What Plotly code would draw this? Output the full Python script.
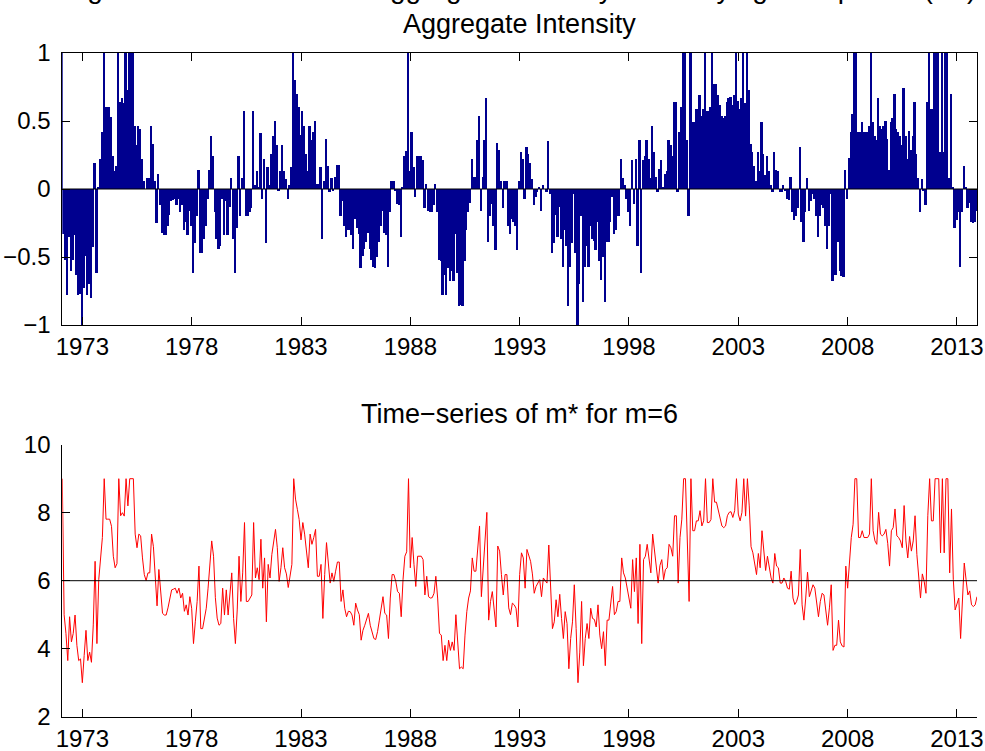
import plotly.graph_objects as go

# Monthly observations, Feb 1972 .. Dec 2013 (503 months)
intensity = [
    1.0, -0.33, -0.52, -0.78, -0.35, -0.6, -0.52, -0.34, -0.63, -0.78,
    -0.77, -1.0, -0.73, -0.49, -0.78, -0.7, -0.8, -0.43, 0.19, -0.62,
    0.01, 0.22, 0.42, 1.0, 0.6, 0.6, 0.6, 0.53, 0.24, 0.13,
    0.17, 1.0, 0.64, 0.67, 0.63, 1.0, 0.73, 1.0, 1.0, 1.0,
    0.46, 0.32, 0.46, 0.44, 0.22, 0.06, 0.0, 0.08, 0.08, 0.46,
    0.33, 0.06, -0.25, 0.11, -0.12, -0.32, -0.34, -0.34, -0.27, -0.19,
    -0.09, -0.08, -0.07, -0.12, -0.07, -0.17, -0.12, -0.3, -0.24, -0.34,
    -0.16, -0.27, -0.62, -0.4, -0.2, 0.14, -0.47, -0.47, -0.37, -0.27,
    -0.07, 0.14, 0.39, 0.24, -0.17, -0.37, -0.44, -0.42, -0.07, -0.34,
    -0.09, -0.34, -0.13, 0.08, -0.37, -0.62, -0.29, 0.24, -0.2, 0.08,
    0.57, -0.2, -0.2, -0.17, -0.14, 0.57, 0.03, 0.13, 0.01, 0.41,
    -0.07, 0.22, -0.4, 0.16, 0.03, 0.26, 0.39, 0.5, 0.32, -0.01,
    0.13, 0.32, 0.13, 0.07, -0.07, 0.03, 0.16, 1.0, 0.8, 0.7,
    0.6, 0.4, 0.57, 0.46, 0.26, 0.13, 0.46, 0.36, 0.42, 0.5,
    0.04, 0.04, 0.16, -0.37, 0.06, 0.37, 0.17, -0.02, 0.08, -0.01,
    0.09, 0.18, 0.18, -0.2, -0.09, -0.27, -0.35, -0.3, -0.3, -0.34,
    -0.44, -0.22, -0.29, -0.33, -0.58, -0.49, -0.44, -0.39, -0.32, -0.44,
    -0.52, -0.57, -0.58, -0.5, -0.39, -0.27, -0.16, -0.32, -0.34, -0.57,
    -0.17, 0.06, 0.06, -0.01, -0.11, -0.12, -0.35, 0.01, 0.24, 0.28,
    1.0, 0.13, 0.42, 0.16, -0.06, 0.24, 0.24, 0.24, 0.21, -0.14,
    0.04, -0.16, -0.17, -0.17, -0.12, 0.04, -0.17, -0.52, -0.53, -0.78,
    -0.63, -0.78, -0.58, -0.68, -0.6, -0.68, -0.33, -0.62, -0.86, -0.85,
    -0.86, -0.53, -0.3, -0.17, -0.1, 0.22, 0.09, 0.09, 0.36, 0.54,
    -0.16, 0.09, 0.36, 0.67, -0.39, -0.2, -0.11, -0.27, -0.45, 0.34,
    0.29, 0.06, -0.14, 0.06, 0.06, -0.27, -0.33, -0.22, -0.24, -0.27,
    -0.45, 0.06, 0.27, 0.22, -0.07, 0.31, 0.26, 0.19, 0.07, -0.12,
    -0.06, -0.02, 0.01, -0.16, 0.03, 0.0, -0.02, 0.35, -0.04, -0.47,
    -0.4, -0.19, -0.35, -0.13, -0.37, -0.57, -0.3, -0.42, -0.86, -0.57,
    -0.4, -0.04, -0.47, -1.0, -0.7, -0.2, -0.83, -0.57, -0.42, -0.57,
    -0.27, -0.37, -0.38, -0.45, -0.24, -0.53, -0.67, -0.5, -0.83, -0.39,
    -0.39, -0.24, -0.06, -0.33, -0.3, -0.2, -0.2, 0.22, 0.08, 0.03,
    -0.07, -0.17, -0.27, 0.21, -0.11, 0.22, -0.42, 0.36, -0.62, 0.21,
    0.24, 0.36, 0.22, 0.08, 0.46, 0.27, 0.09, -0.02, 0.15, 0.21,
    0.01, 0.11, 0.13, 0.36, 0.32, 0.24, 0.64, 0.64, -0.02, 0.42,
    0.6, 1.0, 1.0, 0.36, -0.2, 1.0, 0.49, 0.49, 0.59, 0.59,
    0.69, 0.54, 0.59, 1.0, 0.57, 0.57, 0.6, 1.0, 0.77, 0.77,
    0.69, 0.62, 0.54, 0.52, 0.54, 0.64, 0.67, 0.68, 0.62, 0.69,
    1.0, 0.65, 0.59, 0.67, 1.0, 0.63, 1.0, 0.73, 0.33, 0.27,
    0.17, 0.06, 0.27, 0.13, 0.49, 0.26, 0.1, 0.24, 0.13, 0.03,
    -0.02, 0.27, 0.14, 0.13, -0.02, -0.02, 0.03, -0.01, -0.07, -0.08,
    0.09, -0.17, -0.23, -0.2, -0.14, 0.31, -0.24, -0.39, -0.17, 0.08,
    -0.16, -0.09, -0.04, -0.07, -0.2, -0.35, -0.2, -0.12, -0.14, -0.27,
    -0.44, -0.27, -0.04, -0.68, -0.63, -0.63, -0.39, -0.6, -0.64, -0.65,
    0.14, -0.07, 0.23, 0.42, 0.55, 1.0, 1.0, 0.42, 0.42, 0.49,
    0.42, 0.42, 0.42, 0.46, 1.0, 0.49, 0.39, 0.36, 0.67, 0.46,
    0.44, 0.46, 0.5, 0.37, 0.14, 0.49, 0.52, 0.7, 0.44, 0.42,
    0.39, 0.32, 0.74, 0.39, 0.22, 0.43, 0.29, 0.39, 0.64, 0.26,
    0.08, -0.17, 0.07, -0.01, -0.12, 0.64, 1.0, 0.59, 0.59, 1.0,
    1.0, 1.0, 0.27, 1.0, 0.27, 1.0, 1.0, 0.08, 0.7, 0.01,
    -0.29, -0.23, -0.17, -0.57, -0.17, 0.17, 0.01, -0.14, -0.1, -0.24,
    -0.25, -0.24, -0.16,
]

m_star = [
    9.0, 5.0, 4.45, 3.65, 4.94, 4.2, 4.45, 4.99, 4.1, 3.65,
    3.7, 3.0, 3.8, 4.54, 3.65, 3.9, 3.6, 4.7, 6.57, 4.15,
    6.03, 6.67, 7.27, 9.0, 7.81, 7.81, 7.81, 7.6, 6.72, 6.38,
    6.5, 9.0, 7.91, 8.0, 7.9, 9.0, 8.2, 9.0, 9.0, 9.0,
    7.37, 6.97, 7.37, 7.32, 6.67, 6.18, 6.0, 6.23, 6.23, 7.37,
    7.0, 6.18, 5.26, 6.33, 5.63, 5.04, 4.99, 4.99, 5.2, 5.44,
    5.73, 5.75, 5.78, 5.63, 5.78, 5.49, 5.63, 5.1, 5.29, 4.99,
    5.53, 5.19, 4.15, 4.79, 5.39, 6.43, 4.59, 4.59, 4.9, 5.19,
    5.78, 6.43, 7.17, 6.72, 5.5, 4.9, 4.69, 4.74, 5.78, 4.99,
    5.73, 4.99, 5.6, 6.23, 4.89, 4.15, 5.14, 6.72, 5.39, 6.23,
    7.71, 5.39, 5.39, 5.49, 5.58, 7.71, 6.08, 6.38, 6.03, 7.22,
    5.78, 6.67, 4.79, 6.48, 6.08, 6.77, 7.17, 7.51, 6.97, 5.98,
    6.38, 6.97, 6.38, 6.2, 5.8, 6.1, 6.48, 9.0, 8.4, 8.1,
    7.8, 7.2, 7.71, 7.37, 6.77, 6.38, 7.37, 7.07, 7.27, 7.51,
    6.13, 6.13, 6.48, 4.89, 6.18, 7.12, 6.52, 5.93, 6.23, 5.98,
    6.28, 6.55, 6.55, 5.39, 5.73, 5.19, 4.94, 5.1, 5.09, 4.99,
    4.69, 5.34, 5.14, 5.0, 4.25, 4.54, 4.69, 4.84, 5.04, 4.69,
    4.45, 4.3, 4.27, 4.5, 4.84, 5.19, 5.53, 5.04, 4.99, 4.3,
    5.49, 6.18, 6.18, 5.98, 5.68, 5.63, 4.94, 6.03, 6.72, 6.85,
    9.0, 6.38, 7.27, 6.48, 5.83, 6.72, 6.72, 6.72, 6.62, 5.58,
    6.13, 5.53, 5.49, 5.5, 5.63, 6.13, 5.49, 4.45, 4.4, 3.65,
    4.1, 3.65, 4.25, 3.95, 4.2, 3.95, 5.0, 4.15, 3.41, 3.46,
    3.41, 4.4, 5.09, 5.49, 5.7, 6.67, 6.28, 6.28, 7.07, 7.61,
    5.53, 6.28, 7.07, 8.01, 4.84, 5.39, 5.68, 5.19, 4.64, 7.02,
    6.87, 6.18, 5.58, 6.18, 6.18, 5.2, 5.0, 5.34, 5.29, 5.19,
    4.64, 6.18, 6.82, 6.67, 5.78, 6.92, 6.77, 6.57, 6.2, 5.63,
    5.83, 5.93, 6.03, 5.53, 6.08, 6.0, 5.93, 7.05, 5.88, 4.59,
    4.79, 5.44, 4.94, 5.6, 4.89, 4.3, 5.09, 4.74, 3.41, 4.3,
    4.79, 5.88, 4.59, 3.0, 3.9, 5.39, 3.5, 4.3, 4.74, 4.3,
    5.19, 4.89, 4.86, 4.64, 5.29, 4.4, 4.0, 4.5, 3.5, 4.84,
    4.84, 5.29, 5.83, 5.0, 5.09, 5.39, 5.39, 6.67, 6.23, 6.08,
    5.78, 5.49, 5.19, 6.62, 5.68, 6.67, 4.74, 7.07, 4.15, 6.62,
    6.72, 7.07, 6.67, 6.23, 7.37, 6.82, 6.28, 5.93, 6.45, 6.62,
    6.03, 6.33, 6.38, 7.07, 6.97, 6.72, 7.91, 7.91, 5.93, 7.27,
    7.81, 9.0, 9.0, 7.07, 5.39, 9.0, 7.47, 7.47, 7.76, 7.76,
    8.06, 7.61, 7.76, 9.0, 7.71, 7.71, 7.8, 9.0, 8.31, 8.31,
    8.06, 7.86, 7.61, 7.56, 7.61, 7.91, 8.01, 8.03, 7.86, 8.06,
    9.0, 7.96, 7.76, 8.01, 9.0, 7.9, 9.0, 8.2, 7.0, 6.82,
    6.52, 6.18, 6.8, 6.38, 7.47, 6.77, 6.3, 6.72, 6.4, 6.08,
    5.93, 6.8, 6.43, 6.38, 5.93, 5.93, 6.08, 5.98, 5.78, 5.75,
    6.28, 5.49, 5.3, 5.39, 5.58, 6.92, 5.29, 4.84, 5.49, 6.25,
    5.53, 5.73, 5.88, 5.78, 5.39, 4.94, 5.39, 5.63, 5.58, 5.19,
    4.69, 5.2, 5.88, 3.95, 4.1, 4.1, 4.84, 4.2, 4.08, 4.05,
    6.43, 5.78, 6.7, 7.27, 7.66, 9.0, 9.0, 7.27, 7.27, 7.47,
    7.27, 7.27, 7.27, 7.37, 9.0, 7.47, 7.17, 7.07, 8.01, 7.37,
    7.32, 7.37, 7.51, 7.1, 6.43, 7.47, 7.56, 8.11, 7.32, 7.27,
    7.17, 6.97, 8.21, 7.17, 6.67, 7.3, 6.87, 7.17, 7.91, 6.77,
    6.23, 5.49, 6.2, 5.98, 5.63, 7.91, 9.0, 7.76, 7.76, 9.0,
    9.0, 9.0, 6.82, 9.0, 6.82, 9.0, 9.0, 6.23, 8.11, 6.03,
    5.14, 5.3, 5.49, 4.3, 5.5, 6.52, 6.03, 5.58, 5.7, 5.29,
    5.24, 5.29, 5.53,
]

tick_labels = ["1973", "1978", "1983", "1988", "1993", "1998", "2003", "2008", "2013"]
first_year, first_month = 1972, 2
m_reference = 6

months = list(range(len(intensity)))
tick_pos = [(int(y) - first_year) * 12 + (1 - first_month) for y in tick_labels]

FONT = "Liberation Sans, Arial, sans-serif"
W, H = 985, 751
xdom = [62.3 / W, 977 / W]
ydom_top = [1 - 325 / H, 1 - 53 / H]
ydom_bot = [1 - 716.7 / H, 1 - 444.7 / H]
xmid = (xdom[0] + xdom[1]) / 2

fig = go.Figure()
fig.add_trace(go.Bar(x=months, y=intensity, width=1,
                     marker=dict(color="#00008F", line=dict(width=0)),
                     xaxis="x", yaxis="y"))
fig.add_trace(go.Scatter(x=months, y=m_star, mode="lines",
                         line=dict(color="#FF0000", width=1),
                         xaxis="x2", yaxis="y2"))

axis_common = dict(showgrid=False, zeroline=False, showline=True, linecolor="black",
                   linewidth=1, ticks="inside", ticklen=8, tickcolor="black",
                   automargin=False,
                   tickfont=dict(family=FONT, size=24, color="black"))

fig.update_layout(
    width=W, height=H, margin=dict(l=0, r=0, t=0, b=0, pad=0, autoexpand=False),
    paper_bgcolor="white", plot_bgcolor="white", showlegend=False,
    bargap=0,
    xaxis=dict(domain=xdom, anchor="y", range=[0, len(months) - 1],
               tickvals=tick_pos, ticktext=tick_labels, mirror="allticks",
               ticklabelstandoff=0, **axis_common),
    yaxis=dict(domain=ydom_top, anchor="x", range=[-1, 1],
               tickvals=[-1, -0.5, 0, 0.5, 1],
               ticktext=["\u22121", "\u22120.5", "0", "0.5", "1"],
               mirror="allticks", ticklabelstandoff=6, **axis_common),
    xaxis2=dict(domain=xdom, anchor="y2", range=[0, len(months) - 1],
                tickvals=tick_pos, ticktext=tick_labels, ticklabelstandoff=0, **axis_common),
    yaxis2=dict(domain=ydom_bot, anchor="x2", range=[2, 10],
                tickvals=[2, 4, 6, 8, 10], ticklabelstandoff=6, **axis_common),
    shapes=[
        dict(type="line", xref="x domain", yref="y", x0=0, x1=1, y0=0, y1=0,
             line=dict(color="black", width=1)),
        dict(type="line", xref="x2 domain", yref="y2", x0=0, x1=1,
             y0=m_reference, y1=m_reference, line=dict(color="black", width=1)),
    ],
    annotations=[
        dict(text="Figure 1: Time\u2212series of Aggregate Intensity and Varying Group Size (m*)",
             xref="paper", yref="paper", x=xmid, y=1 + 12 / H,
             xanchor="center", yanchor="middle", showarrow=False,
             font=dict(family=FONT, size=28, color="black")),
        dict(text="Aggregate Intensity", xref="paper", yref="paper",
             x=xmid, y=1 - 24 / H, xanchor="center", yanchor="middle",
             showarrow=False, font=dict(family=FONT, size=27, color="black")),
        dict(text="Time\u2212series of m* for m=6", xref="paper", yref="paper",
             x=xmid, y=1 - 414 / H, xanchor="center", yanchor="middle",
             showarrow=False, font=dict(family=FONT, size=27, color="black")),
    ],
)

fig.write_html("out.html",
               config={"displayModeBar": False},
               post_script="document.body.style.margin='0px';"
                           "document.body.style.overflow='hidden';")
